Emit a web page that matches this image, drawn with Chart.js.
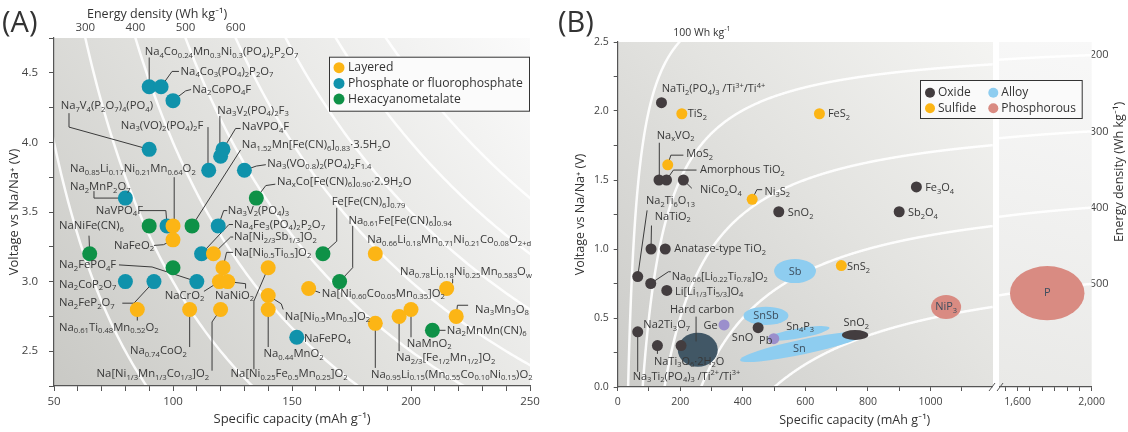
<!DOCTYPE html>
<html>
<head>
<meta charset="utf-8">
<script src="https://cdn.jsdelivr.net/npm/chart.js@4.4.0/dist/chart.umd.min.js"></script>
<style>
  body { margin: 0; background: #fff; width: 1128px; height: 432px; overflow: hidden; position: relative; }
  #ca { position: absolute; left: 0; top: 0; }
  #cb { position: absolute; left: 556px; top: 0; }
</style>
</head>
<body>
<canvas id="ca" width="556" height="432"></canvas>
<canvas id="cb" width="572" height="432"></canvas>
<script>
const FONT = "'Open Sans', Lato, sans-serif";
Chart.defaults.font.family = FONT;
Chart.defaults.color = '#444';

// ---------- panel A: cathodes (capacity mAh/g, voltage V) ----------
const layeredA = [[100,3.4],[100,3.3],[117,3.2],[121,3.1],[140,3.1],[119.5,3.0],[123,3.0],[140,2.9],[85,2.8],[107,2.8],[120,2.8],[140,2.8],[185,3.2],[157,2.95],[215,2.95],[200,2.8],[195,2.75],[219,2.75],[185,2.7]];
const phosphateA = [[90,4.4],[95,4.4],[100,4.3],[90,3.95],[115,3.8],[120,3.9],[121,3.95],[130,3.8],[80,3.6],[97.5,3.4],[119,3.4],[112,3.2],[80,3.0],[92,3.0],[110,3.0],[152,2.6]];
const hexaA = [[135,3.6],[90,3.4],[108,3.4],[65,3.2],[100,3.1],[163,3.2],[170,3.0],[209,2.65]];
const energyLinesA = [200, 300, 400, 500, 600, 700, 800, 900];
const energyTicksA = [300, 400, 500, 600];

// [text, capacity, voltage, leader line]
const labelsA = [
  ['Na_{4}Co_{0.24}Mn_{0.3}Ni_{0.3}(PO_{4})_{2}P_{2}O_{7}', 88.1, 4.65, [[90,4.61],[90,4.4]]],
  ['Na_{4}Co_{3}(PO_{4})_{2}P_{2}O_{7}', 103.2, 4.51, [[95,4.4],[99.6,4.51],[102.5,4.51]]],
  ['Na_{2}CoPO_{4}F', 108.1, 4.38, [[100,4.3],[105.3,4.37],[107.6,4.38]]],
  ['Na_{7}V_{4}(P_{2}O_{7})_{4}(PO_{4})', 52.8, 4.26, [[56.3,4.21],[56.3,4.11],[90,3.95]]],
  ['Na_{3}(VO)_{2}(PO_{4})_{2}F', 78, 4.12, [[114.7,4.11],[114.7,3.8]]],
  ['Na_{3}V_{2}(PO_{4})_{2}F_{3}', 118.6, 4.23, [[119.7,4.19],[119.7,3.9]]],
  ['NaVPO_{4}F', 128.9, 4.11, [[121,3.95],[126.3,4.10],[128.4,4.10]]],
  ['Na_{1.52}Mn[Fe(CN)_{6}]_{0.83}·3.5H_{2}O', 128.9, 3.98, [[128.4,3.946],[108,3.4]]],
  ['Na_{3}(VO_{0.8})_{2}(PO_{4})_{2}F_{1.4}', 139.6, 3.85, [[130,3.8],[135,3.83],[139,3.84]]],
  ['Na_{x}Co[Fe(CN)_{6}]_{0.90}·2.9H_{2}O', 143.7, 3.72, [[135,3.6],[139,3.69],[143,3.70]]],
  ['Na_{0.85}Li_{0.17}Ni_{0.21}Mn_{0.64}O_{2}', 56.7, 3.81, [[100.5,3.75],[100.5,3.42]]],
  ['Na_{2}MnP_{2}O_{7}', 56.7, 3.68, [[66.8,3.65],[66.8,3.6],[80,3.6]]],
  ['NaVPO_{4}F', 67.5, 3.51, [[86.7,3.51],[97,3.51],[97.5,3.4]]],
  ['NaNiFe(CN)_{6}', 52.1, 3.40, [[64.7,3.33],[65,3.2]]],
  ['NaFeO_{2}', 75.2, 3.26, [[92,3.26],[96,3.265],[100,3.3]]],
  ['Na_{3}V_{2}(PO_{4})_{3}', 123, 3.51, [[119,3.4],[121.3,3.51],[122.8,3.51]]],
  ['Na_{4}Fe_{3}(PO_{4})_{2}P_{2}O_{7}', 125.6, 3.41, [[112,3.2],[123.5,3.41],[125.2,3.41]]],
  ['Na[Ni_{2/3}Sb_{1/3}]O_{2}', 125.6, 3.32, [[117,3.2],[124.2,3.32],[125.3,3.32]]],
  ['Na[Ni_{0.5}Ti_{0.5}]O_{2}', 125.6, 3.21, [[121,3.1],[122.5,3.21],[125.2,3.21]]],
  ['Na_{2}FePO_{4}F', 52.1, 3.12, [[77.3,3.12],[91.2,3.105],[110,3.0]]],
  ['Na_{2}CoP_{2}O_{7}', 52.1, 2.98, null],
  ['Na_{2}FeP_{2}O_{7}', 52.1, 2.845, [[78.7,2.845],[83.6,2.845],[92,3.0]]],
  ['NaCrO_{2}', 96.5, 2.90, [[113,2.93],[119.5,3.0]]],
  ['NaNiO_{2}', 117.6, 2.90, [[123,3.0],[130.5,2.985],[130.5,2.95]]],
  ['Na_{0.61}Ti_{0.48}Mn_{0.52}O_{2}', 52.1, 2.67, [[85,2.8],[85,2.72]]],
  ['Na_{0.74}CoO_{2}', 81.9, 2.50, [[107,2.8],[107,2.53]]],
  ['Na[Ni_{1/3}Mn_{1/3}Co_{1/3}]O_{2}', 67.9, 2.335, [[120,2.8],[116.4,2.71],[116.4,2.36]]],
  ['Na[Ni_{0.25}Fe_{0.5}Mn_{0.25}]O_{2}', 124.2, 2.335, [[140,3.1],[134,2.86],[134,2.37]]],
  ['Na_{0.44}MnO_{2}', 138, 2.48, [[140,2.8],[140,2.53]]],
  ['Na[Ni_{0.5}Mn_{0.5}]O_{2}', 147, 2.75, [[140,2.9],[145.5,2.84],[146.3,2.80]]],
  ['Fe[Fe(CN)_{6}]_{0.79}', 166.7, 3.57, [[168.8,3.53],[168.8,3.29],[163,3.2]]],
  ['Na_{0.61}Fe[Fe(CN)_{6}]_{0.94}', 173.7, 3.44, [[175.5,3.40],[175.5,3.10],[170,3.0]]],
  ['Na_{0.66}Li_{0.18}Mn_{0.71}Ni_{0.21}Co_{0.08}O_{2+d}', 181.6, 3.30, null],
  ['Na_{0.78}Li_{0.18}Ni_{0.25}Mn_{0.583}O_{w}', 195.4, 3.07, [[215,2.95],[217.5,2.99],[217.5,3.02]]],
  ['Na[Ni_{0.60}Co_{0.05}Mn_{0.35}]O_{2}', 162.5, 2.915, [[157,2.95],[161.8,2.92]]],
  ['Na_{3}Mn_{3}O_{8}', 226.9, 2.80, [[219,2.75],[219.5,2.83],[224,2.83]]],
  ['Na_{2}MnMn(CN)_{6}', 215, 2.65, [[209,2.65],[214.5,2.65]]],
  ['NaMnO_{2}', 198.2, 2.555, [[200,2.8],[200,2.60]]],
  ['Na_{2/3}[Fe_{1/2}Mn_{1/2}]O_{2}', 193.7, 2.45, [[195,2.75],[195,2.50]]],
  ['Na_{0.95}Li_{0.15}(Mn_{0.55}Co_{0.10}Ni_{0.15})O_{2}', 183.2, 2.333, [[185,2.7],[185,2.38]]],
  ['NaFePO_{4}', 155, 2.59, null]
];

// ---------- panel B: anodes ----------
const oxideB = [[140,2.06],[132,1.5],[156,1.5],[210,1.5],[515,1.27],[955,1.45],[900,1.27],[106.6,1.0],[152,1.0],[64,0.8],[105.6,0.75],[157,0.7],[64,0.4],[127,0.3],[202.6,0.3],[449,0.43]];
const sulfideB = [[205,1.98],[645,1.98],[160,1.61],[430,1.36],[715,0.88]];
const alloyDotsB = [[340,0.45],[499,0.35]];
// [name, capacity, voltage, half width (mAh/g), half height (V), tilt deg, kind]
const regionsB = [
  ['Sn', 594, 0.292, 207, 0.054, -12, 'alloy'],
  ['Sn4P3', 578, 0.389, 101, 0.036, -10, 'alloy'],
  ['SnSb', 474, 0.516, 72, 0.066, 0, 'alloy'],
  ['Sb', 567, 0.84, 67, 0.087, 0, 'alloy'],
  ['Hard carbon', 256, 0.27, 64, 0.123, 0, 'carbon'],
  ['SnO2', 759, 0.377, 42, 0.036, 0, 'oxide'],
  ['NiP3', 1050, 0.58, 48, 0.087, 0, 'phos'],
  ['P', 1760, 0.68, 201, 0.196, 0, 'phos']
];
const labelsB = [
  ['NaTi_{2}(PO_{4})_{3} /Ti^{3+}/Ti^{4+}', 141, 2.157, null],
  ['TiS_{2}', 224, 1.976, null],
  ['FeS_{2}', 672, 1.976, null],
  ['Na_{x}VO_{2}', 125, 1.82, [[133,1.77],[133,1.5]]],
  ['MoS_{2}', 219, 1.686, [[160,1.61],[170,1.68],[210,1.68]]],
  ['Amorphous TiO_{2}', 263, 1.572, [[156,1.5],[178,1.572],[252,1.572]]],
  ['NiCo_{2}O_{4}', 263, 1.428, [[210,1.5],[237,1.44]]],
  ['Ni_{3}S_{2}', 469, 1.415, [[430,1.36],[445,1.43],[462,1.43]]],
  ['SnO_{2}', 544, 1.259, null],
  ['Fe_{3}O_{4}', 983, 1.44, null],
  ['Sb_{2}O_{4}', 928, 1.259, null],
  ['Na_{2}Ti_{6}O_{13}', 90.6, 1.348, [[94,1.28],[64,0.8]]],
  ['NaTiO_{2}', 118.4, 1.234, [[108,1.17],[106.6,1.0]]],
  ['Anatase-type TiO_{2}', 181, 1.0, null],
  ['Na_{0.66}[Li_{0.22}Ti_{0.78}]O_{2}', 172.8, 0.80, [[105.6,0.75],[162,0.835],[170,0.835]]],
  ['Li[Li_{1/3}Ti_{5/3}]O_{4}', 183, 0.69, null],
  ['Hard carbon', 167, 0.558, [[250.6,0.51],[250.6,0.33]]],
  ['Na2Ti_{3}O_{7}', 82, 0.449, null],
  ['Ge', 274, 0.442, null],
  ['SnO', 365, 0.353, null],
  ['Pb', 452, 0.335, null],
  ['Sn_{4}P_{3}', 538.6, 0.437, null],
  ['SnO_{2}', 722, 0.462, null],
  ['SnS_{2}', 733, 0.867, null],
  ['NaTi_{3}O_{6}·2H_{2}O', 116, 0.183, [[127,0.3],[127,0.24]]],
  ['Na_{3}Ti_{2}(PO_{4})_{3} /Ti^{2+}/Ti^{3+}', 48, 0.075, [[64,0.4],[64,0.11]]]
];
const regionLabelsB = [['Sb', 567, 0.835], ['SnSb', 474, 0.516], ['Sn', 581, 0.273], ['NiP_{3}', 1050, 0.58], ['P', 1760, 0.68]];
const energyLinesB = [100, 200, 300, 400, 500];
const energyTicksB = [200, 300, 400, 500];
const capTicksB = [0,100,200,300,400,500,600,700,800,900,1000,1100,1533,1600,1667,1733,1800,1867,1933,2000];
const capLabelsB = { 0: '0', 200: '200', 400: '400', 600: '600', 800: '800', 1000: '1000', 1600: '1,600', 2000: '2,000' };

// full-cell iso-energy guide (cathode ~3.5 V, ~200 mAh/g)
const V_CATH = 3.51, CAP_CATH = 199;
const anodeVolt = (E, cap) => V_CATH - E / CAP_CATH - E / cap;

const COLORS = {
  layered: '#fcb515', phosphate: '#1092ab', hexa: '#0e9147',
  oxide: '#433d3f', sulfide: '#fcb515', alloy: '#8ecdf0', phos: '#d98b82',
  carbon: 'rgba(52,76,92,0.92)', purple: '#9b8fcc'
};

// ---------- helpers ----------
function parseRich(s) {
  const out = []; let buf = '', i = 0;
  while (i < s.length) {
    const c = s[i];
    if ((c === '_' || c === '^') && s[i + 1] === '{') {
      if (buf) { out.push({ t: buf, m: 0 }); buf = ''; }
      const j = s.indexOf('}', i);
      out.push({ t: s.slice(i + 2, j), m: c === '_' ? 1 : 2 });
      i = j + 1;
    } else { buf += c; i++; }
  }
  if (buf) out.push({ t: buf, m: 0 });
  return out;
}
function drawRich(ctx, s, x, y, size, align) {
  const parts = parseRich(s);
  let w = 0;
  parts.forEach(p => {
    p.size = p.m ? size * 0.68 : size;
    ctx.font = p.size + 'px ' + FONT;
    p.w = ctx.measureText(p.t).width;
    w += p.w;
  });
  let cx = align === 'center' ? x - w / 2 : x;
  ctx.textAlign = 'left';
  ctx.textBaseline = 'middle';
  parts.forEach(p => {
    ctx.font = p.size + 'px ' + FONT;
    const dy = p.m === 1 ? size * 0.32 : p.m === 2 ? -size * 0.36 : 0;
    ctx.fillText(p.t, cx, y + dy);
    cx += p.w;
  });
}
function drawLeaders(ctx, list, sx, sy) {
  ctx.strokeStyle = '#3b3b3b';
  ctx.lineWidth = 1;
  list.forEach(l => {
    const pts = l[3];
    if (!pts) return;
    ctx.beginPath();
    pts.forEach((p, i) => {
      const px = sx.getPixelForValue(p[0]), py = sy.getPixelForValue(p[1]);
      if (i) ctx.lineTo(px, py); else ctx.moveTo(px, py);
    });
    ctx.stroke();
  });
}
const toXY = arr => arr.map(([x, y]) => ({ x, y }));
const halfStep = v => Math.abs(v * 2 - Math.round(v * 2)) < 1e-6;

// ---------- scale with a break in it (panel B) ----------
const BREAK_AT = [1200, 1500];
const SEG_LEFT = 0.7918, SEG_GAP = 0.0127;
class BrokenScale extends Chart.LinearScale {
  _frac(v) {
    const lo = this.min, hi = this.max;
    if (v <= BREAK_AT[0]) return (v - lo) / (BREAK_AT[0] - lo) * SEG_LEFT;
    if (v >= BREAK_AT[1]) return SEG_LEFT + SEG_GAP + (v - BREAK_AT[1]) / (hi - BREAK_AT[1]) * (1 - SEG_LEFT - SEG_GAP);
    return SEG_LEFT + (v - BREAK_AT[0]) / (BREAK_AT[1] - BREAK_AT[0]) * SEG_GAP;
  }
  getPixelForValue(v) { return this.getPixelForDecimal(this._frac(v)); }
  getValueForPixel(p) {
    const d = this.getDecimalForPixel(p), lo = this.min, hi = this.max;
    if (d <= SEG_LEFT) return lo + d / SEG_LEFT * (BREAK_AT[0] - lo);
    if (d >= SEG_LEFT + SEG_GAP) return BREAK_AT[1] + (d - SEG_LEFT - SEG_GAP) / (1 - SEG_LEFT - SEG_GAP) * (hi - BREAK_AT[1]);
    return BREAK_AT[0] + (d - SEG_LEFT) / SEG_GAP * (BREAK_AT[1] - BREAK_AT[0]);
  }
}
BrokenScale.id = 'brokenLinear';
BrokenScale.defaults = Chart.LinearScale.defaults;
Chart.register(BrokenScale);

// ---------- panel A ----------
const panelA = {
  id: 'panelA',
  beforeDraw(chart) {
    const { ctx, chartArea: a, scales: { x, y } } = chart;
    ctx.save();
    const g = ctx.createLinearGradient(a.left, a.bottom, a.right, a.top);
    g.addColorStop(0, '#c9c9c5');
    g.addColorStop(0.5, '#e2e2df');
    g.addColorStop(1, '#fbfbfb');
    ctx.fillStyle = g;
    ctx.fillRect(a.left, a.top, a.width, a.height);
    ctx.beginPath(); ctx.rect(a.left, a.top, a.width, a.height); ctx.clip();
    ctx.strokeStyle = 'rgba(255,255,255,0.9)';
    ctx.lineWidth = 2.5;
    energyLinesA.forEach(E => {
      ctx.beginPath();
      for (let c = 40; c <= 260; c += 1) {
        const px = x.getPixelForValue(c), py = y.getPixelForValue(E / c);
        if (c === 40) ctx.moveTo(px, py); else ctx.lineTo(px, py);
      }
      ctx.stroke();
    });
    ctx.restore();
  },
  beforeDatasetsDraw(chart) {
    const { ctx, scales: { x, y } } = chart;
    ctx.save();
    drawLeaders(ctx, labelsA, x, y);
    ctx.restore();
  },
  afterDatasetsDraw(chart) {
    const { ctx, scales: { x, y } } = chart;
    ctx.save();
    ctx.fillStyle = '#383838';
    labelsA.forEach(l => drawRich(ctx, l[0], x.getPixelForValue(l[1]), y.getPixelForValue(l[2]), 11.3, 'left'));
    ctx.restore();
  },
  afterDraw(chart) {
    const { ctx, chartArea: a } = chart;
    ctx.save();
    // legend
    const bx = a.right - 201, by = a.top + 18.7;
    ctx.fillStyle = '#fbfbfb';
    ctx.fillRect(bx, by, 201, 55);
    ctx.strokeStyle = '#333'; ctx.lineWidth = 1;
    ctx.strokeRect(bx + 0.5, by + 0.5, 200, 54);
    [['Layered', COLORS.layered], ['Phosphate or fluorophosphate', COLORS.phosphate], ['Hexacyanometalate', COLORS.hexa]]
      .forEach(([t, c], i) => {
        const ry = by + 11 + i * 15.7;
        ctx.fillStyle = c;
        ctx.beginPath(); ctx.arc(bx + 10, ry, 5.5, 0, Math.PI * 2); ctx.fill();
        ctx.fillStyle = '#333';
        ctx.font = '12.2px ' + FONT; ctx.textAlign = 'left'; ctx.textBaseline = 'middle';
        ctx.fillText(t, bx + 19, ry);
      });
    // top title and panel letter
    ctx.fillStyle = '#333';
    ctx.font = '12.5px ' + FONT;
    ctx.fillText('Energy density (Wh kg⁻¹)', 87, 14);
    ctx.font = '29px ' + FONT;
    ctx.fillText('(A)', 2, 24);
    ctx.restore();
  }
};

new Chart(document.getElementById('ca'), {
  type: 'scatter',
  data: {
    datasets: [
      { label: 'Layered', data: toXY(layeredA), backgroundColor: COLORS.layered },
      { label: 'Phosphate or fluorophosphate', data: toXY(phosphateA), backgroundColor: COLORS.phosphate },
      { label: 'Hexacyanometalate', data: toXY(hexaA), backgroundColor: COLORS.hexa }
    ]
  },
  options: {
    responsive: false,
    animation: false,
    events: [],
    layout: { padding: { left: 0, right: 26, top: 0, bottom: 0 } },
    elements: { point: { radius: 7.5, borderWidth: 0 } },
    plugins: { legend: { display: false }, tooltip: { enabled: false } },
    scales: {
      x: {
        type: 'linear', position: 'bottom', min: 50, max: 250,
        afterFit: s => { s.height = 46; },
        ticks: { stepSize: 10, autoSkip: false, maxRotation: 0, padding: 4, font: { size: 11.5 }, color: '#444',
          callback: v => (v % 50 === 0 ? String(v) : '') },
        grid: { drawOnChartArea: false, drawTicks: true, tickLength: 5, color: '#555' },
        border: { color: '#555', width: 1.2 },
        title: { display: true, text: 'Specific capacity (mAh g⁻¹)', font: { size: 13 }, color: '#333', padding: { top: 0, bottom: 5 } }
      },
      x2: {
        type: 'linear', position: 'top', min: 50, max: 250,
        afterFit: s => { s.height = 38; },
        afterBuildTicks: s => { s.ticks = energyTicksA.map(E => ({ value: E / 4.75 })); },
        ticks: { autoSkip: false, maxRotation: 0, padding: 3, font: { size: 11.5 }, color: '#444',
          callback: (v, i) => String(energyTicksA[i]) },
        grid: { display: false, drawTicks: false },
        border: { display: false }
      },
      y: {
        type: 'linear', min: 2.25, max: 4.75,
        afterFit: s => { s.width = 54; },
        ticks: { stepSize: 0.25, autoSkip: false, padding: 11, font: { size: 11.5 }, color: '#444',
          callback: v => (halfStep(v) ? v.toFixed(1) : '') },
        grid: { drawOnChartArea: false, drawTicks: true, tickLength: 5, color: '#555' },
        border: { color: '#555', width: 1.2 },
        title: { display: true, text: 'Voltage vs Na/Na⁺ (V)', font: { size: 13 }, color: '#333', padding: { top: 6, bottom: 0 } }
      }
    }
  },
  plugins: [panelA]
});

// ---------- panel B ----------
function regionPath(ctx, r, x, y) {
  const cx = x.getPixelForValue(r[1]), cy = y.getPixelForValue(r[2]);
  const rx = Math.abs(x.getPixelForValue(r[1] + r[3]) - cx);
  const ry = Math.abs(y.getPixelForValue(r[2] + r[4]) - cy);
  ctx.beginPath();
  ctx.ellipse(cx, cy, rx, ry, r[5] * Math.PI / 180, 0, Math.PI * 2);
}

const panelB = {
  id: 'panelB',
  beforeDraw(chart) {
    const { ctx, chartArea: a, scales: { x, y } } = chart;
    const xl = x.getPixelForValue(BREAK_AT[0]), xr = x.getPixelForValue(BREAK_AT[1]);
    ctx.save();
    const g = ctx.createLinearGradient(a.left, a.bottom, xl, a.top);
    g.addColorStop(0, '#cbcbc8');
    g.addColorStop(0.55, '#e3e3e0');
    g.addColorStop(1, '#f4f4f2');
    ctx.fillStyle = g;
    ctx.fillRect(a.left, a.top, xl - a.left, a.height);
    const g2 = ctx.createLinearGradient(xr, a.bottom, a.right, a.top);
    g2.addColorStop(0, '#e9e9e7');
    g2.addColorStop(1, '#f8f8f8');
    ctx.fillStyle = g2;
    ctx.fillRect(xr, a.top, a.right - xr, a.height);
    ctx.beginPath(); ctx.rect(a.left, a.top, a.width, a.height); ctx.clip();
    ctx.strokeStyle = 'rgba(255,255,255,0.92)';
    ctx.lineWidth = 2.5;
    energyLinesB.forEach(E => {
      [[5, BREAK_AT[0]], [BREAK_AT[1], 2000]].forEach(([c0, c1]) => {
        ctx.beginPath();
        for (let c = c0; c <= c1; c += 2) {
          const px = x.getPixelForValue(c), py = y.getPixelForValue(anodeVolt(E, c));
          if (c === c0) ctx.moveTo(px, py); else ctx.lineTo(px, py);
        }
        ctx.stroke();
      });
    });
    ctx.restore();
  },
  beforeDatasetsDraw(chart) {
    const { ctx, scales: { x, y } } = chart;
    ctx.save();
    regionsB.forEach(r => {
      regionPath(ctx, r, x, y);
      ctx.fillStyle = COLORS[r[6]];
      ctx.fill();
    });
    drawLeaders(ctx, labelsB, x, y);
    ctx.restore();
  },
  afterDatasetsDraw(chart) {
    const { ctx, scales: { x, y } } = chart;
    ctx.save();
    ctx.fillStyle = '#383838';
    labelsB.forEach(l => drawRich(ctx, l[0], x.getPixelForValue(l[1]), y.getPixelForValue(l[2]), 11, 'left'));
    ctx.fillStyle = '#3d4e5e';
    regionLabelsB.forEach(l => drawRich(ctx, l[0], x.getPixelForValue(l[1]), y.getPixelForValue(l[2]), 11, 'center'));
    ctx.restore();
  },
  afterDraw(chart) {
    const { ctx, chartArea: a, scales: { x, y } } = chart;
    const xl = x.getPixelForValue(BREAK_AT[0]), xr = x.getPixelForValue(BREAK_AT[1]);
    ctx.save();
    // gap of the broken axis
    ctx.fillStyle = '#fff';
    ctx.fillRect(xl, a.top, xr - xl, a.height + 8);
    ctx.strokeStyle = '#555'; ctx.lineWidth = 1;
    [xl - 1, xr + 1].forEach(px => {
      ctx.beginPath(); ctx.moveTo(px - 3, a.bottom + 4); ctx.lineTo(px + 3, a.bottom - 4); ctx.stroke();
    });
    // legend
    const bx = a.right - 171.7, by = a.top + 38;
    ctx.fillStyle = '#fafafa';
    ctx.fillRect(bx, by, 162.7, 39);
    ctx.strokeStyle = '#333';
    ctx.strokeRect(bx + 0.5, by + 0.5, 161.7, 38);
    [['Oxide', COLORS.oxide, 0, 0], ['Alloy', COLORS.alloy, 1, 0], ['Sulfide', COLORS.sulfide, 0, 1], ['Phosphorous', COLORS.phos, 1, 1]]
      .forEach(([t, c, col, row]) => {
        const dx = bx + 10 + col * 63.3, ry = by + 12.7 + row * 15.6;
        ctx.fillStyle = c;
        ctx.beginPath(); ctx.arc(dx, ry, 5, 0, Math.PI * 2); ctx.fill();
        ctx.fillStyle = '#333';
        ctx.font = '12px ' + FONT; ctx.textAlign = 'left'; ctx.textBaseline = 'middle';
        ctx.fillText(t, dx + 8, ry);
      });
    // 100 Wh/kg note
    const cTop = 100 / (V_CATH - 100 / CAP_CATH - y.max);
    ctx.fillStyle = '#333';
    drawRich(ctx, '100 Wh kg^{-1}', x.getPixelForValue(cTop) - 6, a.top - 9, 10.5, 'left');
    // right title
    ctx.save();
    ctx.translate(563, 172);
    ctx.rotate(-Math.PI / 2);
    ctx.font = '12.5px ' + FONT; ctx.textAlign = 'center'; ctx.textBaseline = 'middle';
    ctx.fillText('Energy density (Wh kg⁻¹)', 0, 0);
    ctx.restore();
    ctx.font = '29px ' + FONT; ctx.textAlign = 'left'; ctx.textBaseline = 'middle';
    ctx.fillText('(B)', 2, 24);
    ctx.restore();
  }
};

new Chart(document.getElementById('cb'), {
  type: 'scatter',
  data: {
    datasets: [
      { label: 'Oxide', data: toXY(oxideB), backgroundColor: COLORS.oxide },
      { label: 'Sulfide', data: toXY(sulfideB), backgroundColor: COLORS.sulfide },
      { label: 'Alloy', data: toXY(alloyDotsB), backgroundColor: COLORS.purple }
    ]
  },
  options: {
    responsive: false,
    animation: false,
    events: [],
    layout: { padding: { left: 0, right: 0, top: 42, bottom: 0 } },
    elements: { point: { radius: 5.5, borderWidth: 0 } },
    plugins: { legend: { display: false }, tooltip: { enabled: false } },
    scales: {
      x: {
        type: 'brokenLinear', position: 'bottom', min: 0, max: 2000,
        afterFit: s => { s.height = 45; },
        afterBuildTicks: s => { s.ticks = capTicksB.map(v => ({ value: v })); },
        ticks: { autoSkip: false, maxRotation: 0, padding: 5, font: { size: 10.5 }, color: '#444',
          callback: v => (capLabelsB[v] !== undefined ? capLabelsB[v] : '') },
        grid: { drawOnChartArea: false, drawTicks: true, tickLength: 4, color: '#555' },
        border: { color: '#555', width: 1.2 },
        title: { display: true, text: 'Specific capacity (mAh g⁻¹)', font: { size: 12.5 }, color: '#333', padding: { top: 0, bottom: 4 } }
      },
      y: {
        type: 'linear', position: 'left', min: 0, max: 2.5,
        afterFit: s => { s.width = 61.7; },
        ticks: { stepSize: 0.25, autoSkip: false, padding: 5, font: { size: 10.5 }, color: '#444',
          callback: v => (halfStep(v) ? v.toFixed(1) : '') },
        grid: { drawOnChartArea: false, drawTicks: true, tickLength: 4, color: '#555' },
        border: { color: '#555', width: 1.2 },
        title: { display: true, text: 'Voltage vs Na/Na⁺ (V)', font: { size: 12.5 }, color: '#333', padding: { top: 17, bottom: 0 } }
      },
      y2: {
        type: 'linear', position: 'right', min: 0, max: 2.5,
        afterFit: s => { s.width = 36.3; },
        afterBuildTicks: s => { s.ticks = energyTicksB.map(E => ({ value: anodeVolt(E, 2000) })); },
        ticks: { autoSkip: false, padding: -2, font: { size: 11 }, color: '#444',
          callback: (v, i) => String(energyTicksB[i]) },
        grid: { display: false, drawTicks: false },
        border: { display: false }
      }
    }
  },
  plugins: [panelB]
});
</script>
</body>
</html>
